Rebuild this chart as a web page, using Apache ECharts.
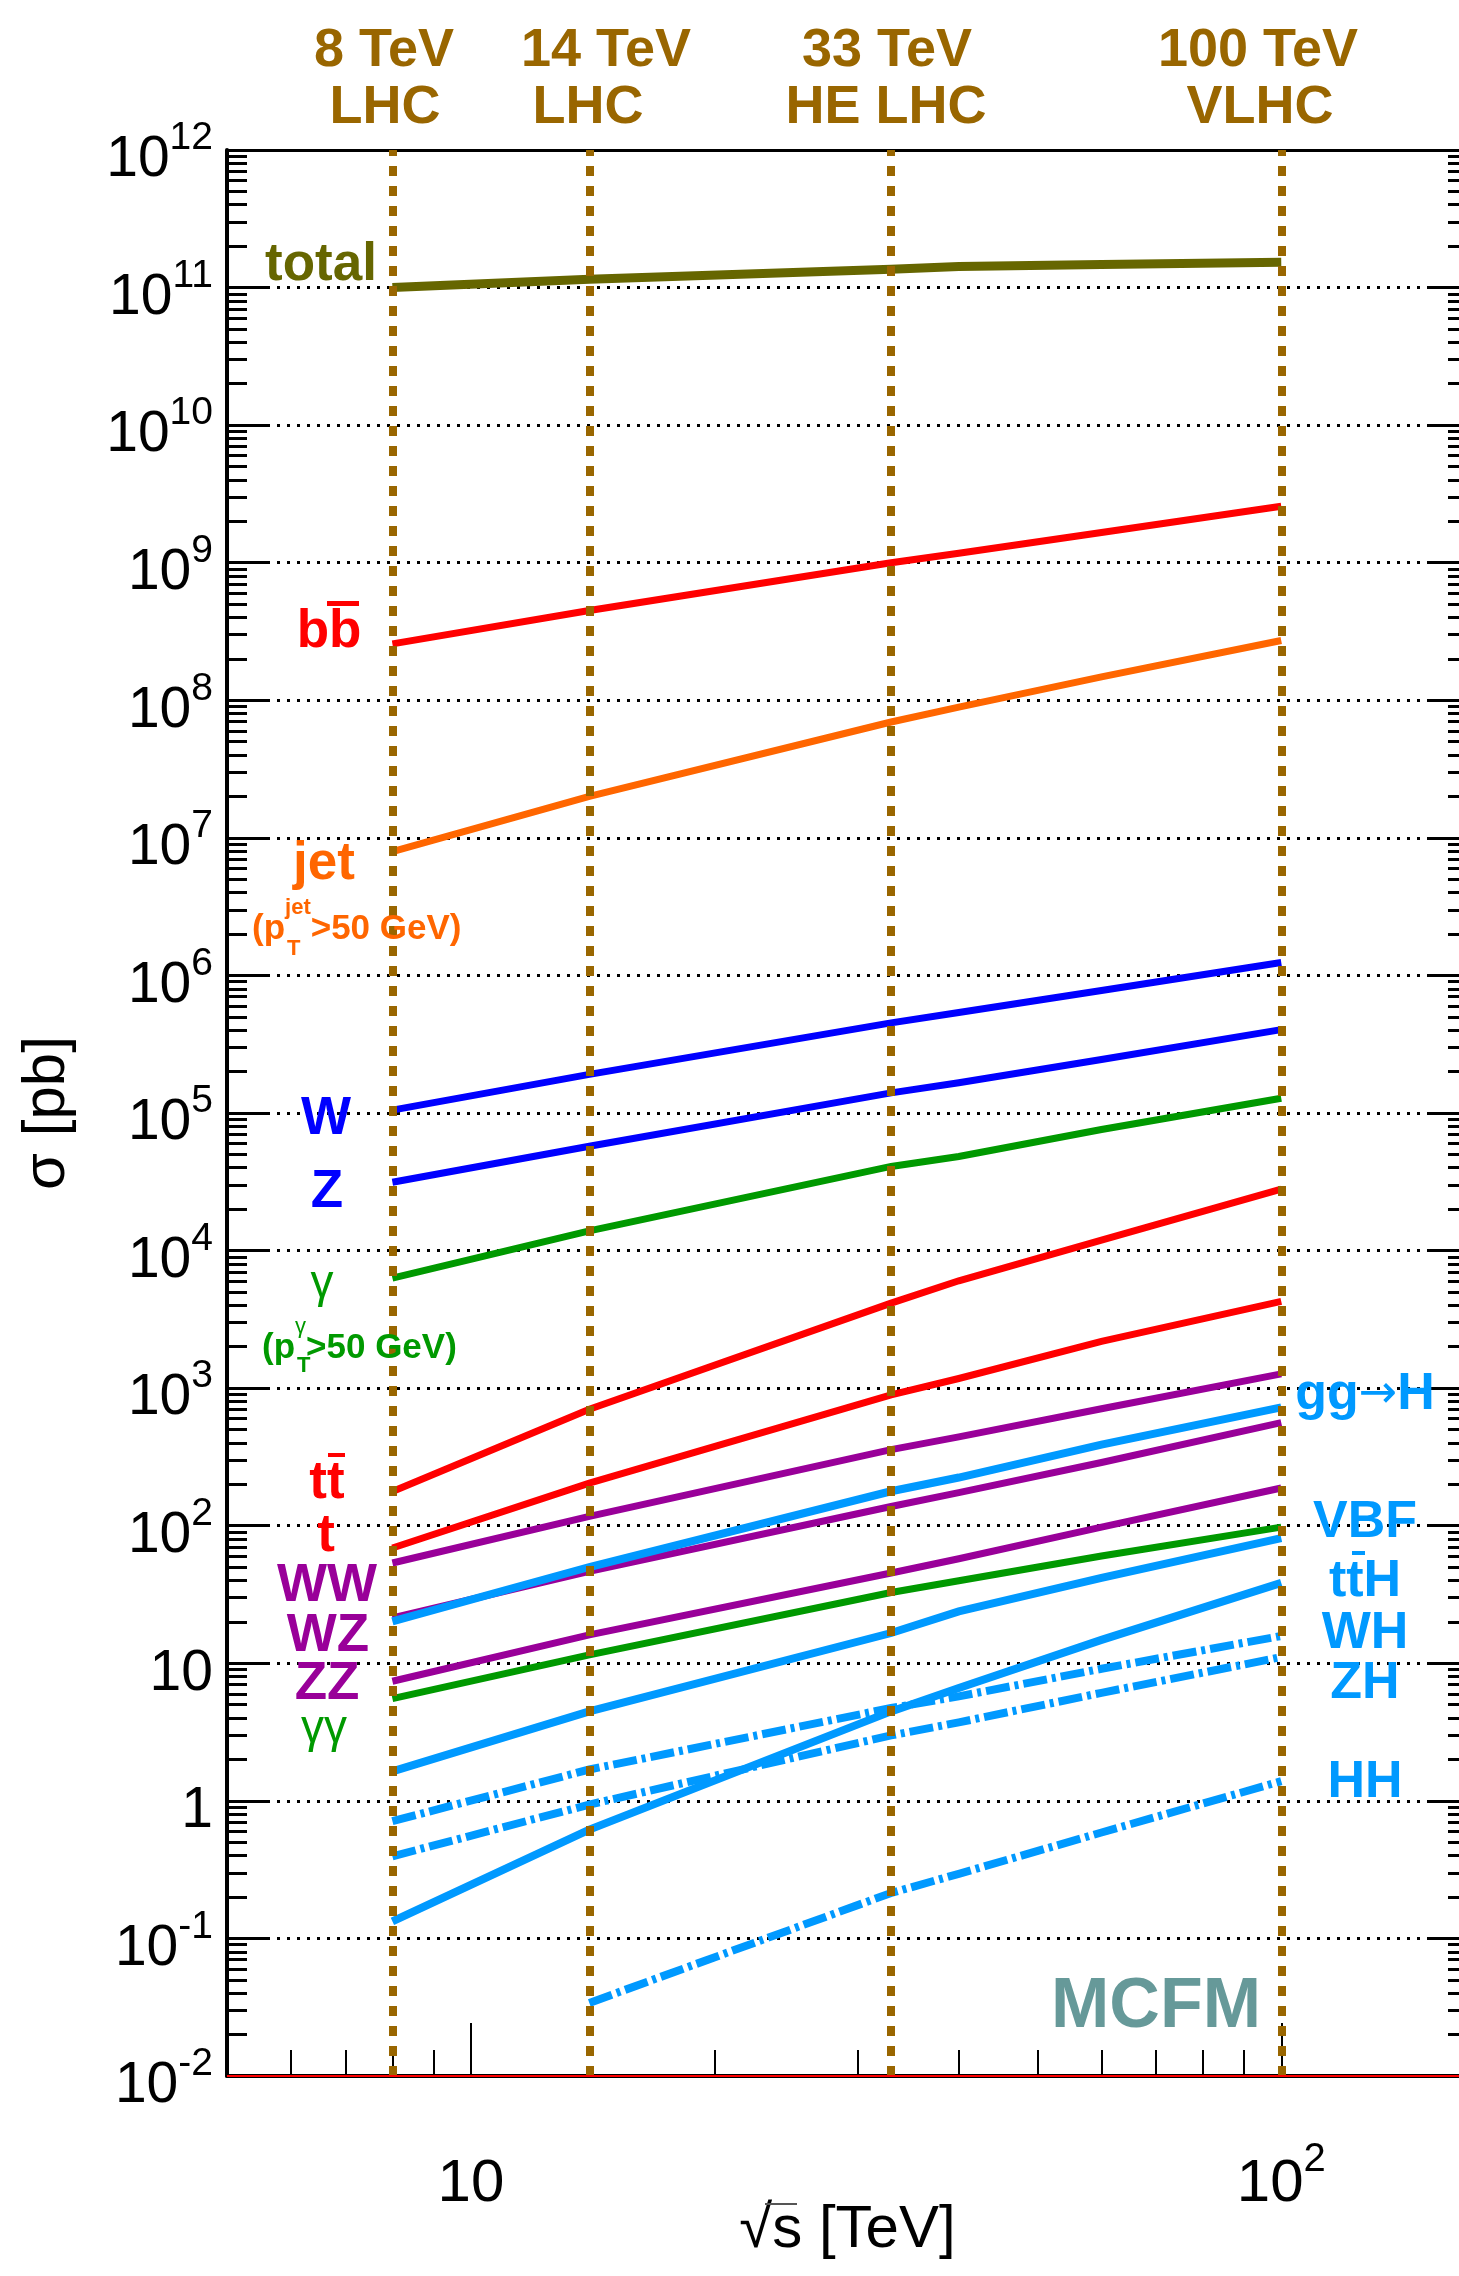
<!DOCTYPE html>
<html>
<head>
<meta charset="utf-8">
<script src="https://cdn.jsdelivr.net/npm/echarts@6/dist/echarts.min.js"></script>
<style>
html,body{margin:0;padding:0;background:#ffffff;}
#chart{width:1459px;height:2276px;}
</style>
</head>
<body>
<div id="chart"></div>
<script>
const FONT = "'Liberation Sans', Arial, Helvetica, sans-serif";

// ---- data (sqrt(s) in TeV, sigma in pb) ----
const energies = [8, 14, 33, 40, 60, 100];
const sigmaTotal = [1.0e11, 1.15e11, 1.36e11, 1.42e11, 1.47e11, 1.53e11];
const sigmaBB    = [2.57e8, 4.49e8, 1.0e9, 1.17e9, 1.66e9, 2.57e9];
const sigmaJet   = [7.94e6, 2.0e7, 6.95e7, 8.91e7, 1.48e8, 2.72e8];
const sigmaW     = [1.05e5, 1.91e5, 4.52e5, 5.37e5, 7.76e5, 1.24e6];
const sigmaZ     = [3.14e4, 5.73e4, 1.40e5, 1.66e5, 2.45e5, 4.04e5];
const sigmaGamma = [6.31e3, 1.39e4, 4.09e4, 4.83e4, 7.59e4, 1.28e5];
const sigmaTT    = [177, 703, 4150, 6030, 11900, 28000];
const sigmaT     = [68.9, 204, 895, 1175, 2190, 4270];
const sigmaWW    = [53.6, 117, 357, 442, 708, 1270];
const sigmaWZ    = [21.4, 46.5, 138, 174, 288, 562];
const sigmaZZ    = [7.40, 16.1, 45.3, 57.5, 97.7, 188];
const sigmaGG    = [5.53, 11.5, 32.7, 39.8, 60.3, 97.7];
const sigmaGGH   = [20.2, 50.1, 178, 224, 389, 724];
const sigmaVBF   = [1.64, 4.47, 16.6, 23.8, 41.7, 81.3];
const sigmaTTH   = [0.133, 0.618, 4.47, 6.61, 14.8, 38.4];
const sigmaWH    = [0.711, 1.69, 4.73, 5.75, 9.12, 15.8];
const sigmaZH    = [0.395, 0.94, 2.99, 3.72, 6.10, 11.1];
const sigmaHH    = [null, 0.034, 0.214, 0.295, 0.589, 1.39];

// collider energies (vertical lines) and their labels
const colliderEnergies = [8, 14, 33, 100];
const colliderLine1 = ['8 TeV', '14 TeV', '33 TeV', '100 TeV'];
const colliderLine2 = ['LHC', 'LHC', 'HE LHC', 'VLHC'];

// axis ticks / tick labels
const yExponents = [-2,-1,0,1,2,3,4,5,6,7,8,9,10,11,12];
const yMajorTicks = yExponents.map(e => Math.pow(10, e));
const yMinorMultipliers = [2,3,4,5,6,7,8,9];
const xMajorTicks = [10, 100];
const xMinorTicks = [6,7,8,9,20,30,40,50,60,70,80,90];

// ---- styling ----
const C_RED = '#ff0000', C_ORANGE = '#ff6600', C_BLUE = '#0000ff', C_GREEN = '#009900',
      C_PURPLE = '#990099', C_HIGGS = '#0099ff', C_OLIVE = '#666600', C_BROWN = '#996600';
const DASHDOT = [24, 5, 4, 5];

const curves = [
  {name:'total', values:sigmaTotal, color:C_OLIVE, width:9},
  {name:'bb', values:sigmaBB, color:C_RED, width:7},
  {name:'jet', values:sigmaJet, color:C_ORANGE, width:7},
  {name:'W', values:sigmaW, color:C_BLUE, width:7},
  {name:'Z', values:sigmaZ, color:C_BLUE, width:7},
  {name:'gamma', values:sigmaGamma, color:C_GREEN, width:7},
  {name:'ttbar', values:sigmaTT, color:C_RED, width:7},
  {name:'t', values:sigmaT, color:C_RED, width:7},
  {name:'WW', values:sigmaWW, color:C_PURPLE, width:7},
  {name:'WZ', values:sigmaWZ, color:C_PURPLE, width:7},
  {name:'ZZ', values:sigmaZZ, color:C_PURPLE, width:7},
  {name:'gammagamma', values:sigmaGG, color:C_GREEN, width:7},
  {name:'gg->H', values:sigmaGGH, color:C_HIGGS, width:8},
  {name:'VBF', values:sigmaVBF, color:C_HIGGS, width:8},
  {name:'ttH', values:sigmaTTH, color:C_HIGGS, width:8},
  {name:'WH', values:sigmaWH, color:C_HIGGS, width:8, dash:true},
  {name:'ZH', values:sigmaZH, color:C_HIGGS, width:8, dash:true},
  {name:'HH', values:sigmaHH, color:C_HIGGS, width:8, dash:true}
];

const yMinorTicks = [];
yExponents.slice(0, -1).forEach(e => yMinorMultipliers.forEach(m => yMinorTicks.push(m * Math.pow(10, e))));

const X_MIN = 5, X_MAX = 170, Y_MIN = 0.01, Y_MAX = 1e12;

function yLabel(v) {
  const e = Math.round(Math.log10(v));
  if (e === 0) return '{b|1}';
  if (e === 1) return '{b|10}';
  return '{b|10}{s|' + e + '}';
}
function xLabel(v) {
  const e = Math.round(Math.log10(v));
  if (e === 1) return '{b|10}';
  return '{b|10}{s|' + e + '}';
}

const baseAxis = {type:'log', logBase:10, axisPointer:{show:false}};

const xAxes = [
  Object.assign({}, baseAxis, {
    position:'bottom', min:X_MIN, max:X_MAX,
    axisLine:{show:true, lineStyle:{color:'#000', width:4}},
    axisTick:{show:true, inside:true, length:53, lineStyle:{color:'#000', width:2}, customValues:xMajorTicks},
    axisLabel:{show:true, customValues:xMajorTicks, margin:64, color:'#000', formatter:xLabel,
      rich:{ b:{fontSize:60, fontFamily:FONT, lineHeight:74, verticalAlign:'bottom', color:'#000'},
             s:{fontSize:40, fontFamily:FONT, lineHeight:40, verticalAlign:'top', color:'#000'} }},
    splitLine:{show:false},
    name:'\u221As [TeV]', nameLocation:'middle', nameGap:124, nameMoveOverlap:false,
    nameTextStyle:{fontSize:60, fontFamily:FONT, color:'#000'}
  }),
  Object.assign({}, baseAxis, {
    position:'bottom', min:X_MIN, max:X_MAX,
    axisLine:{show:false},
    axisTick:{show:true, inside:true, length:26, lineStyle:{color:'#000', width:2}, customValues:xMinorTicks},
    axisLabel:{show:false}, splitLine:{show:false}
  }),
  Object.assign({}, baseAxis, {
    position:'top', min:X_MIN, max:X_MAX,
    axisLine:{show:true, lineStyle:{color:'#000', width:3}},
    axisTick:{show:false}, axisLabel:{show:false}, splitLine:{show:false}
  })
];

const yAxes = [
  Object.assign({}, baseAxis, {
    position:'left', min:Y_MIN, max:Y_MAX,
    axisLine:{show:true, lineStyle:{color:'#000', width:4}},
    axisTick:{show:true, inside:true, length:40, lineStyle:{color:'#000', width:3}, customValues:yMajorTicks},
    axisLabel:{show:true, customValues:yMajorTicks, margin:14, formatter:yLabel, color:'#000',
      rich:{ b:{fontSize:57, fontFamily:FONT, lineHeight:78, verticalAlign:'bottom', color:'#000'},
             s:{fontSize:39, fontFamily:FONT, lineHeight:38, verticalAlign:'top', padding:[8,0,0,0], color:'#000'} }},
    splitLine:{show:true, lineStyle:{color:'#000', width:3, type:[3,7]}},
    name:'\u03C3 [pb]', nameLocation:'middle', nameGap:150, nameRotate:90,
    nameTextStyle:{fontSize:60, fontFamily:FONT, color:'#000'}
  }),
  Object.assign({}, baseAxis, {
    position:'left', min:Y_MIN, max:Y_MAX,
    axisLine:{show:false},
    axisTick:{show:true, inside:true, length:20, lineStyle:{color:'#000', width:3}, customValues:yMinorTicks},
    axisLabel:{show:false}, splitLine:{show:false}
  }),
  Object.assign({}, baseAxis, {
    position:'right', min:Y_MIN, max:Y_MAX,
    axisLine:{show:true, lineStyle:{color:'#000', width:3}},
    axisTick:{show:true, inside:true, length:40, lineStyle:{color:'#000', width:3}, customValues:yMajorTicks},
    axisLabel:{show:false}, splitLine:{show:false}
  }),
  Object.assign({}, baseAxis, {
    position:'right', min:Y_MIN, max:Y_MAX,
    axisLine:{show:false},
    axisTick:{show:true, inside:true, length:20, lineStyle:{color:'#000', width:3}, customValues:yMinorTicks},
    axisLabel:{show:false}, splitLine:{show:false}
  })
];

const series = curves.map(c => ({
  type:'line', name:c.name, xAxisIndex:0, yAxisIndex:0,
  data: energies.map((e, i) => [e, c.values[i]]).filter(p => p[1] != null),
  symbol:'none', smooth:false, z:3, silent:true,
  lineStyle:{color:c.color, width:c.width, type: c.dash ? DASHDOT : 'solid', cap:'butt', join:'miter'}
}));

// collider reference lines + baseline red line
series.push({
  type:'line', name:'colliders', xAxisIndex:0, yAxisIndex:0, data:[], z:6, silent:true,
  markLine:{
    silent:true, symbol:['none','none'], label:{show:false}, animation:false,
    data: colliderEnergies.map(e => ({xAxis:e, lineStyle:{color:C_BROWN, width:8, type:[10,10], cap:'butt'}}))
      .concat([{yAxis:Y_MIN, lineStyle:{color:'#ff0000', width:2, type:'solid'}}])
  }
});

// ---- text annotations (pixel layout) ----
const header1X = [384, 606, 887, 1258];
const header2X = [385, 588, 886, 1260];

const leftLabels = [
  ['total', C_OLIVE, 321, 265],
  ['bb', C_RED, 329, 632],
  ['jet', C_ORANGE, 324, 864],
  ['W', C_BLUE, 326, 1119],
  ['Z', C_BLUE, 327, 1192],
  ['tt', C_RED, 327, 1483],
  ['t', C_RED, 326, 1536],
  ['WW', C_PURPLE, 327, 1586],
  ['WZ', C_PURPLE, 328, 1636],
  ['ZZ', C_PURPLE, 327, 1684]
];
const gammaLabels = [['\u03B3', 322, 1284], ['\u03B3\u03B3', 324, 1729]];
const rightLabels = [
  ['{g|gg}{a|\u2192}{g|H}', 1395], ['VBF', 1523], ['ttH', 1582], ['WH', 1634], ['ZH', 1684], ['HH', 1783]
];

const graphic = [];
function txt(text, x, y, color, font, align, rich) {
  const st = {text:text, fill:color, font:font, align:align || 'center', verticalAlign:'middle'};
  if (rich) st.rich = rich;
  graphic.push({type:'text', x:x, y:y, z:100, silent:true, style:st});
}
function bar(x, y, w, h, color) {
  graphic.push({type:'rect', z:100, silent:true, shape:{x:x, y:y, width:w, height:h}, style:{fill:color}});
}

colliderLine1.forEach((t, i) => txt(t, header1X[i], 51, C_BROWN, 'bold 54px ' + FONT));
colliderLine2.forEach((t, i) => txt(t, header2X[i], 108, C_BROWN, 'bold 54px ' + FONT));
leftLabels.forEach(l => txt(l[0], l[2], l[3], l[1], 'bold 53px ' + FONT));
gammaLabels.forEach(l => txt(l[0], l[1], l[2], C_GREEN, '46px ' + FONT));
const higgsRich = {
  g:{fontSize:52, fontWeight:'bold', fontFamily:FONT, fill:C_HIGGS, lineHeight:56},
  a:{fontSize:46, fontWeight:'normal', fontFamily:"'DejaVu Sans', sans-serif", fill:C_HIGGS, lineHeight:56}
};
rightLabels.forEach(l => txt(l[0], 1365, l[1], C_HIGGS, 'bold 52px ' + FONT, 'center', l[0].indexOf('{') === 0 ? higgsRich : null));
txt('MCFM', 1156, 2008, '#669999', 'bold 70px ' + FONT);

// overbars
bar(327, 601, 32, 5, C_RED);       // b-bar
bar(328, 1453, 17, 4, C_RED);      // t-bar (left)
bar(1352, 1551, 13, 4, C_HIGGS);   // t-bar in ttH
bar(765, 2203, 32, 2, '#555');     // sqrt overbar

// pT cut labels with super/subscripts
function cutLabel(x, yTop, color, sup, supWeight) {
  graphic.push({type:'text', x:x, y:yTop, z:100, silent:true, style:{
    text:'{m|(p}{s|' + sup + '}{m|>50 GeV)}', fill:color, align:'left', verticalAlign:'top',
    rich:{
      m:{fontSize:35, fontWeight:'bold', fontFamily:FONT, lineHeight:50, verticalAlign:'bottom', fill:color},
      s:{fontSize:22, fontWeight:supWeight, fontFamily:FONT, lineHeight:22, verticalAlign:'top', fill:color}
    }}});
}
cutLabel(252, 897, C_ORANGE, 'jet', 'bold');
txt('T', 287, 949, C_ORANGE, 'bold 22px ' + FONT, 'left');
cutLabel(262, 1316, C_GREEN, '\u03B3', 'normal');
txt('T', 297, 1366, C_GREEN, 'bold 22px ' + FONT, 'left');

const chart = echarts.init(document.getElementById('chart'), null, {renderer:'canvas'});
chart.setOption({
  animation:false,
  backgroundColor:'#ffffff',
  textStyle:{fontFamily:FONT},
  grid:{left:227, top:150, width:1241, height:1926, containLabel:false, outerBoundsMode:'none'},
  xAxis:xAxes,
  yAxis:yAxes,
  series:series,
  graphic:graphic
});
</script>
</body>
</html>
